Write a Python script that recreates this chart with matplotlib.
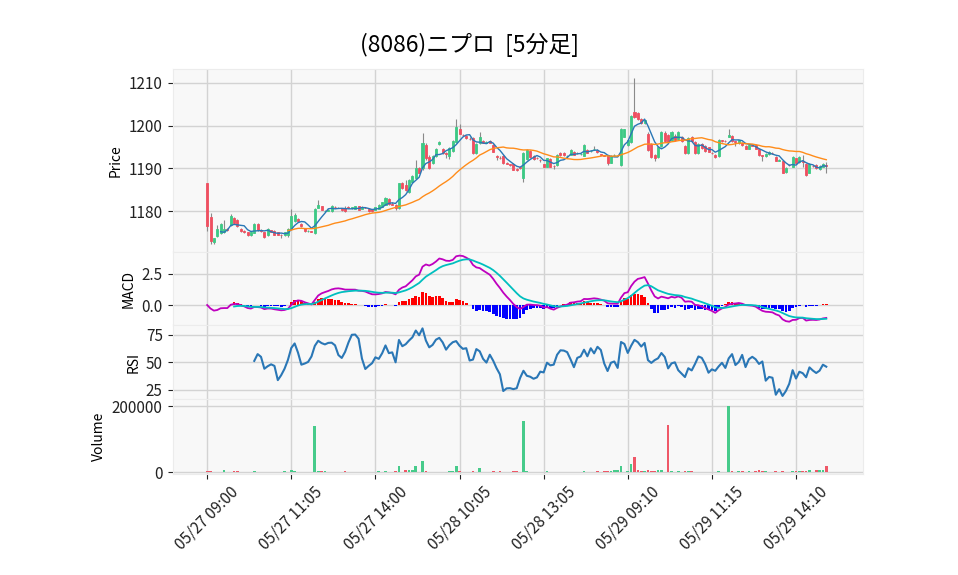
import numpy as np
import pandas as pd
import matplotlib
matplotlib.use("Agg")
import matplotlib.pyplot as plt

plt.rcParams['font.family'] = ['Noto Sans CJK JP', 'DejaVu Sans']

title = "(8086)ニプロ  [5分足]"
tick_labels = ["05/27 09:00", "05/27 11:05", "05/27 14:00", "05/28 10:05",
               "05/28 13:05", "05/29 09:10", "05/29 11:15", "05/29 14:10"]
tick_step = 25

opens = [1186.5, 1178.5, 1172.8, 1174.1, 1174.9, 1175.0, 1175.8, 1176.8, 1178.4, 1178.0,
         1175.8, 1175.3, 1175.0, 1174.3, 1174.9, 1177.0, 1175.6, 1175.0, 1174.3, 1175.5,
         1175.4, 1175.0, 1174.5, 1174.3, 1174.3, 1175.8, 1177.6, 1178.2, 1177.0, 1176.0,
         1175.3, 1175.3, 1174.8, 1180.8, 1181.1, 1179.9, 1180.1, 1179.9, 1181.0, 1180.8,
         1180.7, 1180.8, 1180.9, 1180.6, 1180.5, 1181.1, 1180.5, 1180.8, 1180.5, 1180.4,
         1180.3, 1180.5, 1181.0, 1181.5, 1182.9, 1181.7, 1181.3, 1180.7, 1186.5, 1186.0,
         1184.4, 1186.8, 1187.7, 1190.0, 1190.0, 1195.5, 1192.6, 1191.2, 1192.9, 1195.6,
         1194.6, 1193.5, 1192.9, 1194.0, 1196.2, 1199.3, 1197.8, 1197.6, 1196.9, 1197.0,
         1193.5, 1195.8, 1196.4, 1196.0, 1196.3, 1195.4, 1192.8, 1192.5, 1192.9, 1191.2,
         1190.9, 1191.0, 1189.8, 1190.2, 1187.7, 1192.1, 1194.1, 1192.9, 1192.4, 1192.0,
         1191.0, 1190.4, 1192.2, 1190.6, 1190.8, 1193.5, 1193.5, 1192.9, 1193.1, 1193.9,
         1193.6, 1193.4, 1192.9, 1194.3, 1194.1, 1194.4, 1194.3, 1193.3, 1193.0, 1193.1,
         1191.3, 1193.1, 1193.0, 1190.8, 1197.4, 1195.4, 1196.2, 1203.2, 1202.9, 1201.6,
         1200.6, 1198.1, 1195.7, 1193.1, 1192.6, 1195.2, 1198.3, 1197.8, 1196.6, 1197.6,
         1196.9, 1197.4, 1195.2, 1193.5, 1197.4, 1196.2, 1193.5, 1195.7, 1195.2, 1194.9,
         1193.6, 1193.1, 1192.9, 1196.5, 1196.4, 1197.4, 1197.5, 1196.3, 1195.8, 1196.0,
         1195.2, 1194.6, 1195.4, 1195.4, 1194.5, 1193.1, 1192.8, 1193.3, 1193.6, 1192.6,
         1191.8, 1191.6, 1189.2, 1190.8, 1190.4, 1192.3, 1191.5, 1191.6, 1191.0, 1189.0,
         1190.6, 1190.8, 1189.8, 1190.4, 1190.8]
highs = [1186.5, 1179.6, 1173.8, 1176.8, 1177.3, 1177.8, 1176.0, 1179.2, 1178.6, 1178.2,
         1176.0, 1175.5, 1175.1, 1175.1, 1177.1, 1177.1, 1175.8, 1175.2, 1176.0, 1175.6,
         1175.5, 1175.1, 1174.6, 1175.2, 1176.0, 1180.5, 1179.5, 1178.4, 1177.1, 1176.1,
         1175.5, 1175.4, 1180.6, 1182.6, 1181.2, 1180.2, 1180.4, 1181.3, 1181.2, 1181.0,
         1180.8, 1181.2, 1181.2, 1181.0, 1181.2, 1181.2, 1181.1, 1180.9, 1180.6, 1180.5,
         1181.0, 1181.6, 1182.2, 1183.3, 1183.0, 1182.0, 1181.6, 1186.6, 1186.9, 1187.2,
         1187.5, 1188.5, 1191.9, 1190.3, 1198.3, 1196.0, 1193.0, 1193.2, 1194.8, 1196.4,
         1194.8, 1193.7, 1194.9, 1196.6, 1201.6, 1200.4, 1198.0, 1197.8, 1197.2, 1197.2,
         1195.9, 1198.5, 1196.6, 1196.3, 1196.5, 1195.6, 1193.1, 1192.8, 1193.0, 1191.4,
         1191.1, 1191.2, 1190.0, 1190.4, 1193.8, 1194.6, 1194.2, 1193.0, 1192.6, 1192.1,
         1191.1, 1192.5, 1192.3, 1190.8, 1193.3, 1193.7, 1193.7, 1193.1, 1194.6, 1194.0,
         1193.8, 1193.6, 1195.7, 1194.4, 1194.3, 1195.2, 1194.4, 1193.4, 1193.2, 1193.2,
         1193.1, 1193.3, 1193.2, 1199.5, 1199.3, 1196.8, 1202.5, 1211.2, 1203.2, 1201.8,
         1201.4, 1198.4, 1195.9, 1193.4, 1195.2, 1198.7, 1198.8, 1198.0, 1198.8, 1197.9,
         1198.7, 1197.6, 1195.4, 1197.2, 1197.6, 1196.4, 1195.9, 1195.9, 1195.4, 1195.0,
         1193.8, 1193.3, 1196.8, 1196.7, 1196.6, 1199.1, 1197.7, 1196.4, 1196.6, 1196.1,
         1195.4, 1195.6, 1195.6, 1195.6, 1194.6, 1193.2, 1193.6, 1194.0, 1193.7, 1192.8,
         1192.1, 1191.8, 1190.2, 1191.0, 1192.9, 1192.5, 1192.9, 1193.1, 1191.2, 1191.2,
         1190.8, 1191.0, 1190.7, 1191.2, 1191.5]
lows = [1175.4, 1172.4, 1172.3, 1173.9, 1174.7, 1174.8, 1175.4, 1176.6, 1177.0, 1176.2,
        1175.2, 1174.8, 1174.1, 1174.1, 1174.8, 1175.4, 1175.1, 1173.6, 1174.1, 1175.0,
        1174.3, 1174.3, 1173.8, 1174.1, 1174.0, 1175.5, 1177.4, 1177.4, 1176.2, 1175.1,
        1175.0, 1175.0, 1174.6, 1180.6, 1180.2, 1179.7, 1180.0, 1179.8, 1180.8, 1180.6,
        1180.0, 1179.8, 1180.6, 1180.5, 1180.4, 1180.2, 1180.4, 1180.6, 1179.8, 1179.8,
        1180.2, 1180.4, 1180.9, 1181.4, 1181.4, 1181.4, 1180.3, 1180.5, 1185.2, 1184.8,
        1184.2, 1186.6, 1187.5, 1188.8, 1189.6, 1192.0, 1189.8, 1191.0, 1192.7, 1195.4,
        1193.4, 1192.4, 1192.2, 1193.8, 1196.0, 1198.0, 1197.5, 1196.8, 1196.6, 1193.4,
        1193.3, 1195.6, 1195.8, 1195.8, 1195.8, 1193.7, 1191.9, 1192.2, 1191.1, 1190.9,
        1190.6, 1189.5, 1189.4, 1189.9, 1186.9, 1192.0, 1192.4, 1192.0, 1192.1, 1191.5,
        1190.3, 1190.3, 1190.3, 1189.8, 1190.6, 1192.9, 1192.9, 1192.7, 1193.0, 1193.0,
        1193.4, 1193.2, 1192.8, 1193.5, 1193.9, 1194.2, 1193.6, 1193.0, 1192.8, 1190.8,
        1191.2, 1192.9, 1192.8, 1190.5, 1197.2, 1195.2, 1195.8, 1201.8, 1201.4, 1200.3,
        1200.4, 1194.1, 1192.4, 1191.8, 1192.4, 1195.0, 1196.2, 1196.0, 1196.4, 1196.4,
        1196.7, 1196.1, 1193.3, 1193.3, 1196.2, 1193.3, 1193.3, 1194.5, 1193.9, 1193.7,
        1193.3, 1192.4, 1192.7, 1196.2, 1196.2, 1197.2, 1196.2, 1195.2, 1195.6, 1195.2,
        1194.4, 1194.4, 1195.1, 1194.4, 1192.9, 1191.6, 1192.6, 1193.2, 1193.3, 1191.6,
        1191.6, 1188.8, 1189.0, 1190.5, 1190.2, 1191.1, 1191.3, 1190.4, 1188.2, 1188.8,
        1190.3, 1189.8, 1189.6, 1190.2, 1189.0]
closes = [1176.5, 1173.0, 1173.6, 1175.8, 1177.0, 1175.8, 1175.6, 1178.9, 1177.1, 1176.4,
          1175.3, 1175.1, 1174.3, 1175.0, 1177.0, 1175.6, 1175.3, 1173.9, 1175.8, 1175.2,
          1174.5, 1174.5, 1174.3, 1175.0, 1175.8, 1178.9, 1179.1, 1177.6, 1176.4, 1175.3,
          1175.4, 1175.2, 1180.5, 1181.5, 1180.3, 1180.0, 1180.3, 1181.1, 1180.9, 1180.7,
          1180.2, 1180.0, 1180.8, 1180.9, 1181.1, 1180.3, 1181.0, 1180.7, 1179.9, 1179.9,
          1180.9, 1181.5, 1182.0, 1183.0, 1181.6, 1181.5, 1180.8, 1186.5, 1185.4, 1185.0,
          1187.3, 1188.2, 1190.0, 1189.0, 1196.0, 1192.4, 1190.0, 1192.9, 1194.6, 1196.2,
          1193.5, 1193.3, 1194.7, 1196.4, 1199.7, 1198.1, 1197.7, 1197.0, 1196.8, 1193.6,
          1195.7, 1197.4, 1196.0, 1196.1, 1196.0, 1193.9, 1192.6, 1192.4, 1191.2, 1191.1,
          1190.8, 1189.6, 1189.7, 1190.1, 1193.6, 1194.3, 1192.6, 1192.1, 1192.3, 1191.9,
          1190.4, 1192.3, 1190.4, 1190.5, 1193.1, 1193.0, 1193.0, 1192.9, 1194.3, 1193.1,
          1193.6, 1193.4, 1195.5, 1193.6, 1194.1, 1194.4, 1193.7, 1193.2, 1192.9, 1191.2,
          1192.9, 1193.1, 1193.1, 1199.3, 1199.1, 1196.6, 1202.2, 1202.0, 1201.6, 1200.5,
          1201.2, 1194.3, 1192.6, 1192.3, 1195.0, 1198.5, 1196.4, 1196.2, 1198.5, 1196.6,
          1198.5, 1196.3, 1193.5, 1197.0, 1196.4, 1193.5, 1195.7, 1194.7, 1194.1, 1193.9,
          1193.5, 1192.6, 1196.6, 1196.4, 1196.3, 1197.8, 1196.4, 1196.2, 1196.5, 1195.4,
          1194.6, 1195.4, 1195.3, 1194.6, 1193.1, 1192.8, 1193.4, 1193.8, 1193.5, 1191.8,
          1192.0, 1189.0, 1190.0, 1190.7, 1192.7, 1191.3, 1192.7, 1191.5, 1188.4, 1191.0,
          1190.5, 1190.0, 1190.5, 1191.0, 1190.5]
volumes = [4000, 3500, 1500, 1200, 1500, 6000, 1500, 2000, 2500, 4500,
           2000, 1500, 2000, 1800, 2500, 2200, 1500, 2000, 2000, 1500,
           1800, 1500, 1500, 3500, 2000, 6000, 3000, 2000, 2000, 1800,
           1500, 1500, 139000, 2500, 4000, 3500, 1500, 2000, 1500, 1500,
           2000, 4500, 1500, 1500, 2000, 2000, 1500, 1500, 2000, 1500,
           1500, 3500, 2000, 3500, 1500, 1500, 4000, 19000, 1500, 6000,
           8000, 8000, 19000, 1500, 34000, 5000, 2000, 1500, 1500, 1500,
           1500, 1500, 5000, 2500, 19000, 5000, 2000, 2000, 1500, 4500,
           2000, 12000, 2000, 1500, 2000, 4500, 2000, 4000, 2000, 1500,
           1500, 4500, 3000, 1500, 155000, 3000, 2000, 2000, 2000, 1500,
           1500, 4500, 2000, 1500, 2000, 2000, 2000, 1500, 2000, 2000,
           1500, 1500, 4500, 2000, 1500, 1500, 3000, 1500, 3000, 5000,
           5000, 6000, 8000, 19000, 2000, 3500, 25000, 46000, 6000, 5000,
           4000, 6000, 5000, 5000, 6000, 5500, 2000, 142000, 3000, 2000,
           3000, 2000, 3000, 3500, 3500, 2000, 2000, 2000, 2000, 2000,
           1500, 2000, 3000, 2000, 1500, 201000, 5000, 1500, 3000, 3000,
           2000, 3000, 2000, 4000, 6000, 5000, 3000, 2000, 1500, 4000,
           2000, 4000, 2000, 2000, 5000, 4000, 5000, 3000, 5000, 7000,
           2000, 8000, 6000, 6000, 19000]

price_ticks = [1180, 1190, 1200, 1210]
macd_ticks = [0.0, 2.5]
rsi_ticks = [25, 50, 75]
vol_ticks = [0, 200000]

UP = '#3dc985'
DOWN = '#ef4f60'
WICK = '#8a8a8a'
FACE = '#f8f8f8'
GRID = '#d3d3d3'

o = np.array(opens); h = np.array(highs); l = np.array(lows); c = np.array(closes)
v = np.array(volumes)
n = len(c)
x = np.arange(n)
up = c >= o
colors = np.where(up, UP, DOWN)

cs = pd.Series(c)
ma5 = cs.rolling(5).mean()
ma25 = cs.rolling(25).mean()
ema12 = cs.ewm(span=12, adjust=False).mean()
ema26 = cs.ewm(span=26, adjust=False).mean()
macd = ema12 - ema26
signal = macd.ewm(span=9, adjust=False, min_periods=9).mean()
hist = macd - signal
delta = cs.diff()
gain = delta.clip(lower=0).rolling(14).mean()
loss = (-delta.clip(upper=0)).rolling(14).mean()
rsi = 100 - 100 / (1 + gain / loss)

fig = plt.figure(figsize=(9.58, 5.75), dpi=100)
L, W = 172.5 / 958, (863.3 - 172.5) / 958
def box(top, bot):
    return [L, 1 - bot / 575, W, (bot - top) / 575]
ax1 = fig.add_axes(box(69.3, 252.3))
ax2 = fig.add_axes(box(252.3, 325.0), sharex=ax1)
ax3 = fig.add_axes(box(325.0, 399.3), sharex=ax1)
ax4 = fig.add_axes(box(399.3, 473.5), sharex=ax1)

for ax in (ax1, ax2, ax3, ax4):
    ax.set_facecolor(FACE)
    ax.set_axisbelow(True)
    ax.grid(True, color=GRID, linewidth=1.0, linestyle='-')
    for s in ax.spines.values():
        s.set_color('#ececec')
        s.set_linewidth(0.8)
    ax.tick_params(axis='y', length=3.5, width=0.8, colors='#222222', labelsize=11)
    ax.tick_params(axis='x', length=3.5, width=0.8, colors='#222222')

# candles
ax1.vlines(x, l, h, color=WICK, linewidth=0.8, zorder=2)
body_lo = np.minimum(o, c)
body_h = np.abs(c - o)
ax1.bar(x, body_h, width=0.6, bottom=body_lo, color=colors, edgecolor=colors,
        linewidth=0.6, zorder=3)
ax1.plot(x, ma5, color='#2a77b6', linewidth=1.0, zorder=4)
ax1.plot(x, ma25, color='#ff8c1a', linewidth=1.0, zorder=4)
pad = 0.05 * (h.max() - l.min())
ax1.set_ylim(l.min() - pad, h.max() + pad)
ax1.set_yticks(price_ticks)
ax1.set_ylabel('Price', fontsize=10)

# MACD
hcol = np.where(hist >= 0, 'red', 'blue')
ax2.bar(x, hist.fillna(0), width=0.8, color=hcol, zorder=2)
ax2.plot(x, macd, color='m', linewidth=1.3, zorder=3)
ax2.plot(x, signal, color='c', linewidth=1.3, zorder=3)
ax2.set_yticks(macd_ticks)
ax2.set_yticklabels([f"{t:.1f}" for t in macd_ticks])
ax2.set_ylabel('MACD', fontsize=10)

# RSI
ax3.plot(x, rsi, color='#2a77b6', linewidth=1.5)
rpad = 0.05 * (rsi.max() - rsi.min())
ax3.set_ylim(rsi.min() - rpad, rsi.max() + rpad)
ax3.set_yticks(rsi_ticks)
ax3.set_ylabel('RSI', fontsize=10)

# Volume
ax4.bar(x, v, width=0.8, color=colors, alpha=0.95, zorder=2)
ax4.set_ylim(-3600, 1.1 * v.max())
ax4.set_yticks(vol_ticks)
ax4.set_yticklabels([str(t) for t in vol_ticks])
ax4.set_ylabel('Volume', fontsize=10)

ticks = np.arange(0, n, tick_step)[:len(tick_labels)]
ax4.set_xticks(ticks)
ax4.set_xticklabels(tick_labels, rotation=45, ha='center', fontsize=11)
ax4.set_xlim(-10.3, 195.0)
for ax in (ax1, ax2, ax3):
    ax.tick_params(axis='x', labelbottom=False, length=0)

fig.text(470 / 958, 1 - 45 / 575, title, ha='center', va='center', fontsize=16.5)

fig.savefig('out.png', dpi=100)
